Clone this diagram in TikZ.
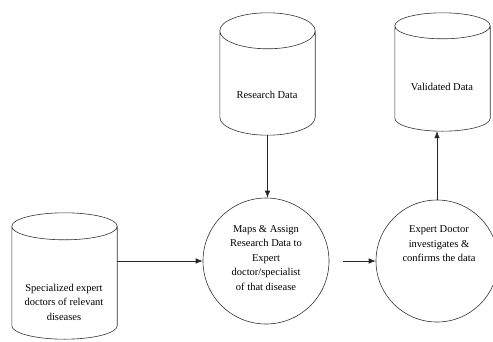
\documentclass[tikz,border=0pt]{standalone}
\usepackage{fontspec}
\setmainfont{Liberation Serif}
\usetikzlibrary{calc,arrows.meta}
\tikzset{
  >={Latex[length=7pt,width=5.5pt]},
}
\tikzstyle{every node}=[font=\fontsize{10.5}{14.5}\selectfont]
\tikzstyle{drum}=[inner sep=0pt]
\tikzstyle{proc}=[circle,draw=black!80,semithick,inner sep=0pt]
\tikzstyle{txt}=[align=center,inner sep=0pt]
\tikzstyle{flow}=[->,semithick,black!85]
% outline of a data store round an empty node
\newcommand{\drumline}[2]{%
  \draw[black!80,semithick] let \p1=(#1.north west), \p2=(#1.south east), \n1={(\x2-\x1)/2} in
    (\x1,\y1-#2) -- (\x1,\y2+#2)
    arc[start angle=180,end angle=360,x radius={\n1*1pt},y radius=#2]
    -- (\x2,\y1-#2)
    arc[start angle=0,end angle=360,x radius={\n1*1pt},y radius=#2];
}

\begin{document}
\begin{tikzpicture}[x=1pt,y=-1pt]
    \useasboundingbox (0,0) rectangle (493,341);
    % data stores
    \node[drum,minimum width=105pt,minimum height=126pt] (spec) at (64.5,276) {};
    \node[drum,minimum width=95pt,minimum height=122pt] (resdata) at (267.5,74) {};
    \node[drum,minimum width=95pt,minimum height=118pt] (valdata) at (442.5,72) {};
    \drumline{spec}{13.5pt}
    \drumline{resdata}{18pt}
    \drumline{valdata}{13pt}
    \node[txt] (spectext) at (64,302) {Specialized expert\\doctors of relevant\\diseases};
    \node[txt] (restext) at (267,95) {Research Data};
    \node[txt] (valtext) at (442,87) {Validated Data};
    % processes
    \node[proc,minimum size=126pt] (maps) at (266,261) {};
    \node[proc,minimum size=122pt] (check) at (437,261) {};
    \node[txt] (mapstext) at (266,258) {Maps \& Assign\\Research Data to\\Expert\\doctor/specialist\\of that disease};
    \node[txt] (checktext) at (439,244) {Expert Doctor\\investigates \&\\confirms the data};
    % flows
    \draw[flow] (spec.east |- maps.west) -- (maps.west);
    \draw[flow] (resdata.south) -- (resdata.south |- maps.north);
    \draw[flow] ([xshift=14pt]maps.east) -- (check.west);
    \draw[flow] (check.north) -- (check.north |- valdata.south);
\end{tikzpicture}
\end{document}
